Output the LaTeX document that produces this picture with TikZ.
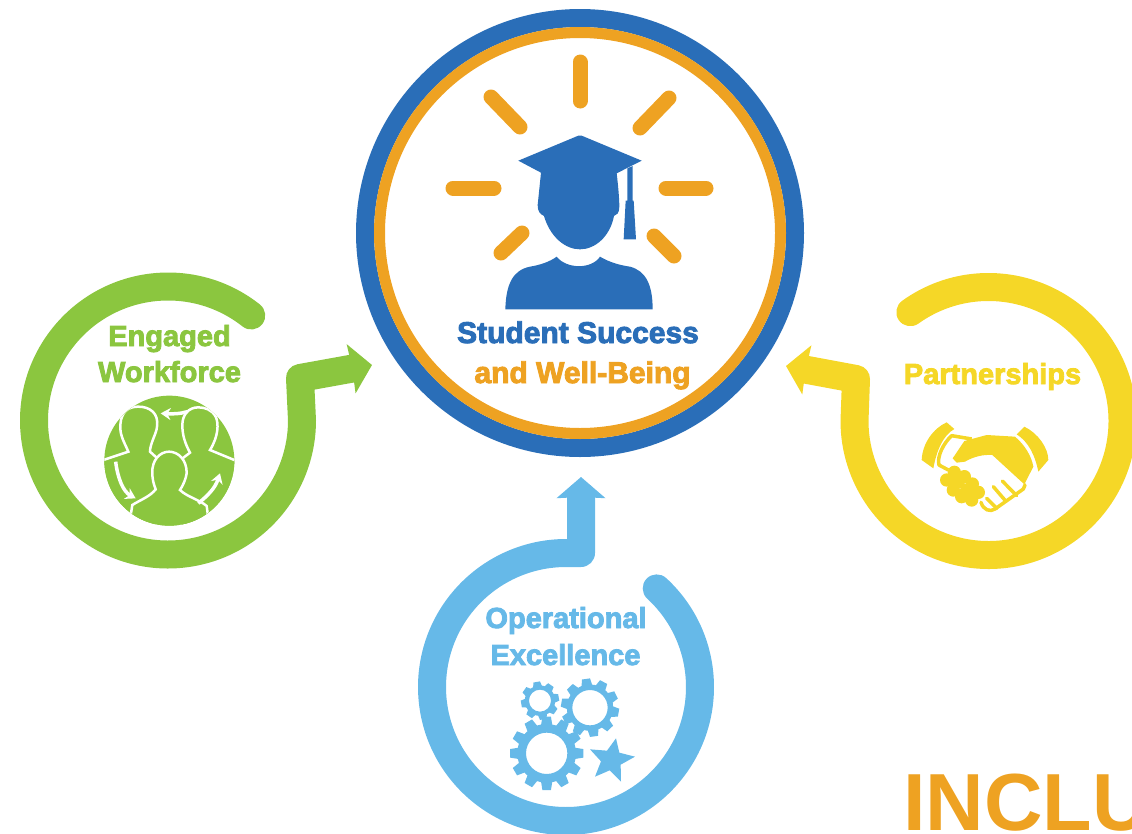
\documentclass[tikz,border=0pt]{standalone}
\usepackage{fontspec}
\usetikzlibrary{arrows.meta}
\newfontfamily\heavyfont[FakeBold=3]{Liberation Sans Bold}
\newfontfamily\wordfont{Liberation Sans Bold}
\definecolor{ringblue}{HTML}{2A6EB8}
\definecolor{ringorange}{HTML}{EEA222}
\definecolor{swirlgreen}{HTML}{8BC63F}
\definecolor{swirlyellow}{HTML}{F5D727}
\definecolor{swirlsky}{HTML}{66B9E8}
\tikzset{
  swirl/.style={line width=28pt,line cap=round,line join=round,draw=#1},
  ray/.style={line width=15pt,line cap=round,ringorange},
  caption/.style={anchor=base,inner sep=0pt,font=\heavyfont\fontsize{#1}{#1}\selectfont},
  zoomed/.style={shift={#1},scale=1/3},
  spin/.style={white,line width=3.5pt,-{Stealth[length=10pt,width=12pt]}}
}
\newcommand{\gearat}[6]{% x, y, outer, hole, teeth, turn
\begin{scope}[shift={(#1,#2)}]
\pgfmathsetmacro{\toothstep}{360/#5}
\pgfmathsetmacro{\toothtip}{1.4*#3/#5}
\pgfmathsetmacro{\toothfoot}{1.9*#3/#5}
\foreach \n in {1,...,#5}
\fill [rotate=#6+\n*\toothstep] (-\toothtip,-#3) -- (\toothtip,-#3) -- (\toothfoot,-0.74*#3) -- (-\toothfoot,-0.74*#3) -- cycle ;
\fill [even odd rule] (0,0) circle (0.8*#3) (0,0) circle (#4) ;
\end{scope}}
\begin{document}
\begin{tikzpicture}[x=1pt,y=-1pt]
\useasboundingbox (0,0) rectangle (1132,833) ;
% centre
\draw [ringblue,line width=18pt] (580,233) circle (215) ;
\draw [ringorange,line width=11pt] (580,233) circle (200.5) ;
\draw [ray] (580,62) -- (580,101) ;
\draw [ray] (669,98) -- (640,128) ;
\draw [ray] (491,97) -- (520,127) ;
\draw [ray] (453,188) -- (494,188) ;
\draw [ray] (666,188) -- (706,188) ;
\draw [ray] (522,233) -- (501,253) ;
\draw [ray] (654,236) -- (674,256) ;
\begin{scope}[zoomed={(350,40)},ringblue]
\fill (505,362) -- (685,287) -- (695,287) -- (875,362) -- (800,400) .. controls (805,440) and (808,480) .. (808,500) .. controls (808,520) and (800,525) .. (792,528) .. controls (780,590) and (735,628) .. (690,628) .. controls (645,628) and (600,590) .. (582,528) .. controls (570,522) and (563,515) .. (563,495) -- (573,398) -- cycle ;
\fill (832,385) -- (848,378) -- (848,482) -- (851,482) -- (858,598) -- (821,598) -- (827,482) -- (832,482) -- cycle ;
\fill (466,808) .. controls (468,730) and (490,690) .. (540,680) .. controls (570,675) and (600,665) .. (620,650) .. controls (650,688) and (725,688) .. (750,650) .. controls (775,665) and (805,675) .. (840,680) .. controls (885,692) and (908,730) .. (908,808) -- cycle ;
\end{scope}
\node (student) [caption=30,ringblue] at (578,343) {Student Success} ;
\node (wellbeing) [caption=30,ringorange] at (582.5,383) {and Well-Being} ;
% left
\draw [swirl=swirlgreen,-{Stealth[length=21pt,width=49pt,inset=1pt]}] (168,420.5) ++(-51.6:134) arc (-51.6:-360:134) -- (300,378) -- (372,365) ;
\node (engaged) [caption=29,swirlgreen] at (169.5,346) {Engaged} ;
\node (workforce) [caption=29,swirlgreen] at (169.5,382) {Workforce} ;
\begin{scope}[zoomed={(95,390)}]
\fill [swirlgreen] (223,212) circle (195) ;
\clip (223,212) circle (195) ;
\begin{scope}[fill=swirlgreen,draw=white,line width=2.5pt]
\filldraw (10,215) -- (100,185) .. controls (85,150) and (70,130) .. (78,90) .. controls (85,60) and (105,50) .. (130,50) .. controls (165,50) and (192,70) .. (186,110) .. controls (185,130) and (165,160) .. (165,185) -- (215,230) -- (180,420) -- (10,420) -- cycle ;
\filldraw (430,215) -- (345,180) .. controls (370,140) and (372,100) .. (362,80) .. controls (352,60) and (330,52) .. (310,52) .. controls (280,52) and (262,75) .. (262,105) .. controls (262,135) and (270,160) .. (285,188) -- (230,230) -- (260,420) -- (430,420) -- cycle ;
\filldraw (100,420) -- (112,345) .. controls (135,330) and (165,320) .. (182,298) .. controls (175,280) and (172,265) .. (172,250) .. controls (170,210) and (195,185) .. (222,185) .. controls (250,185) and (276,210) .. (275,250) .. controls (273,265) and (265,285) .. (255,300) .. controls (275,320) and (315,330) .. (335,348) -- (345,420) -- cycle ;
\end{scope}
\draw [spin] (277,65) .. controls (255,72) and (230,72) .. (197,70) ;
\draw [spin] (62,215) .. controls (68,265) and (85,305) .. (122,325) ;
\draw [spin] (310,340) .. controls (340,315) and (360,295) .. (375,250) ;
\end{scope}
% right
\draw [swirl=swirlyellow,-{Stealth[length=21pt,width=49pt,inset=1pt]}] (988.5,421) ++(-125.7:134) arc (-125.7:180:134) -- (856,379) -- (786,366) ;
\node (partnerships) [caption=29,swirlyellow] at (992.5,384) {Partnerships} ;
\begin{scope}[zoomed={(915,415)},swirlyellow]
\fill (95,22) -- (118,42) .. controls (85,60) and (65,105) .. (55,160) -- (20,135) .. controls (22,85) and (55,40) .. (95,22) -- cycle ;
\fill (328,35) .. controls (370,55) and (400,100) .. (400,135) -- (370,170) .. controls (360,120) and (340,80) .. (305,58) -- cycle ;
\fill (113,130) -- (148,78) -- (215,60) -- (300,65) .. controls (330,90) and (350,125) .. (355,155) -- (328,208) -- (232,120) .. controls (205,118) and (175,125) .. (150,140) -- (125,143) -- cycle ;
\draw [line width=3.5pt,line join=round] (170,72) -- (110,62) .. controls (85,85) and (65,125) .. (72,150) -- (100,165) ;
\foreach \x/\y in {118/172,148/185,172/207,190/232,95/195,115/225,140/245,170/255,130/200,155/225}
\fill (\x,\y) circle (20) ;
\draw [line width=3.5pt,line join=round,line cap=round] (198,262) .. controls (205,285) and (225,292) .. (240,282) -- (325,222) -- (330,210) ;
\draw [line width=3.5pt,line cap=round] (215,250) -- (245,280) (235,215) -- (272,258) (262,198) -- (305,242) ;
\end{scope}
% bottom
\draw [swirl=swirlsky,-{Stealth[length=21pt,width=48pt,inset=1pt]}] (566,687) ++(-47.4:134) arc (-47.4:270:134) -- (581,553) -- (581,477) ;
\node (operational) [caption=29,swirlsky] at (566,628) {Operational} ;
\node (excellence) [caption=29,swirlsky] at (565.5,665) {Excellence} ;
\begin{scope}[zoomed={(410,470)},swirlsky]
\gearat{390}{692}{57}{33}{8}{10}
\gearat{540}{713}{87}{53}{10}{8}
\gearat{410}{850}{110}{62}{12}{0}
\fill (618,805) -- (628,848) -- (675,860) -- (632,884) -- (633,935) -- (599,901) -- (555,920) -- (573,874) -- (540,838) -- (591,842) -- cycle ;
\end{scope}
\node (inclusion) [anchor=base west,inner sep=0pt,ringorange,font=\wordfont\fontsize{81}{81}\selectfont] at (903,830) {INCLU} ;
\end{tikzpicture}
\end{document}
